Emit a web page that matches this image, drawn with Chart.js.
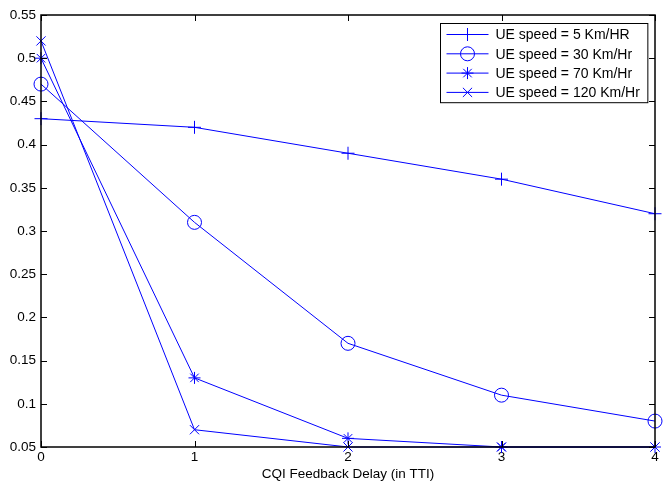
<!DOCTYPE html>
<html>
<head>
<meta charset="utf-8">
<script src="https://cdn.jsdelivr.net/npm/chart.js@4/dist/chart.umd.min.js"></script>
<style>
  html, body { margin: 0; padding: 0; background: #fff; }
  #wrap { width: 664px; height: 484px; }
</style>
</head>
<body>
<div id="wrap"><canvas id="cqiChart" width="664" height="484"></canvas></div>
<script>
// values
const delays = [0, 1, 2, 3, 4];
const speed5 = [0.43, 0.42, 0.39, 0.36, 0.32];
const speed30 = [0.47, 0.31, 0.17, 0.11, 0.08];
const speed70 = [0.50, 0.13, 0.06, 0.05, 0.05];
const speed120 = [0.52, 0.07, 0.05, 0.05, 0.05];
const seriesNames = ['UE speed = 5 Km/HR', 'UE speed = 30 Km/Hr', 'UE speed = 70 Km/Hr', 'UE speed = 120 Km/Hr'];
const xTicks = [0, 1, 2, 3, 4];
const yTicks = [0.05, 0.1, 0.15, 0.2, 0.25, 0.3, 0.35, 0.4, 0.45, 0.5, 0.55];

const FONT = '"Liberation Sans", Arial, Helvetica, sans-serif';
const BLUE = '#0000ff';

function toPoints(vals) {
    return delays.map((d, i) => ({ x: d, y: vals[i] }));
}

function makeSet(label, vals, style, radius) {
    return {
        label: label,
        data: toPoints(vals),
        borderColor: BLUE,
        backgroundColor: 'rgba(0,0,0,0)',
        borderWidth: 1,
        pointStyle: style,
        pointRadius: radius,
        pointBorderColor: BLUE,
        pointBorderWidth: 1,
        pointBackgroundColor: 'rgba(0,0,0,0)',
        tension: 0,
        clip: false
    };
}

// box, inward ticks on all four sides, and the legend
const matlabFrame = {
    id: 'matlabFrame',
    afterDraw(chart) {
        const ctx = chart.ctx;
        const a = chart.chartArea;
        const xs = chart.scales.x, ys = chart.scales.y;
        const tl = 6;
        ctx.save();
        ctx.strokeStyle = '#000';
        ctx.lineWidth = 1;
        ctx.beginPath();
        xTicks.forEach(v => {
            const px = Math.round(xs.getPixelForValue(v)) + 0.5;
            ctx.moveTo(px, a.bottom); ctx.lineTo(px, a.bottom - tl);
            ctx.moveTo(px, a.top); ctx.lineTo(px, a.top + tl);
        });
        yTicks.forEach(v => {
            const py = Math.round(ys.getPixelForValue(v)) + 0.5;
            ctx.moveTo(a.left, py); ctx.lineTo(a.left + tl, py);
            ctx.moveTo(a.right, py); ctx.lineTo(a.right - tl, py);
        });
        ctx.stroke();
        ctx.lineWidth = 1.5;
        ctx.strokeRect(a.left, a.top, a.right - a.left, a.bottom - a.top);

        // legend
        ctx.font = '14px ' + FONT;
        let maxW = 0;
        chart.data.datasets.forEach(ds => { maxW = Math.max(maxW, ctx.measureText(ds.label).width); });
        const rowH = 19.3;
        const boxW = 55 + maxW + 8;
        const boxH = rowH * chart.data.datasets.length + 2;
        const bx = Math.round(a.right - 8 - boxW) + 0.5;
        const by = Math.round(a.top + 8) + 0.5;
        ctx.fillStyle = '#fff';
        ctx.fillRect(bx, by, boxW, boxH);
        ctx.strokeStyle = '#000';
        ctx.lineWidth = 1;
        ctx.strokeRect(bx, by, boxW, boxH);
        chart.data.datasets.forEach((ds, i) => {
            const cy = by + 11 + i * rowH;
            ctx.strokeStyle = BLUE;
            ctx.lineWidth = 1;
            ctx.beginPath();
            ctx.moveTo(bx + 6, cy); ctx.lineTo(bx + 48, cy);
            ctx.stroke();
            ctx.fillStyle = 'rgba(0,0,0,0)';
            Chart.helpers.drawPoint(ctx, {
                pointStyle: ds.pointStyle,
                radius: ds.pointRadius,
                borderWidth: 1
            }, bx + 27, cy);
            ctx.fillStyle = '#000';
            ctx.textBaseline = 'middle';
            ctx.textAlign = 'left';
            ctx.fillText(ds.label, bx + 55, cy + 1);
        });
        ctx.restore();
    }
};

new Chart(document.getElementById('cqiChart').getContext('2d'), {
    type: 'line',
    data: {
        datasets: [
            makeSet(seriesNames[0], speed5, 'cross', 6.5),
            makeSet(seriesNames[1], speed30, 'circle', 7),
            makeSet(seriesNames[2], speed70, 'star', 6),
            makeSet(seriesNames[3], speed120, 'crossRot', 6.5)
        ]
    },
    options: {
        responsive: false,
        animation: false,
        layout: { padding: { top: 15, right: 9, left: 0, bottom: 0 } },
        plugins: { legend: { display: false }, tooltip: { enabled: false } },
        scales: {
            x: {
                type: 'linear',
                min: 0, max: 4,
                afterBuildTicks: s => { s.ticks = xTicks.map(v => ({ value: v })); },
                afterFit: s => { s.height = 37; },
                grid: { display: false, drawTicks: false },
                border: { display: false },
                ticks: { color: '#000', font: { family: FONT, size: 13.5 }, padding: 2, maxRotation: 0 },
                title: { display: true, text: 'CQI Feedback Delay (in TTI)', color: '#000', font: { family: FONT, size: 13.5 }, padding: { top: 2, bottom: 2 } }
            },
            y: {
                type: 'linear',
                min: 0.05, max: 0.55,
                afterBuildTicks: s => { s.ticks = yTicks.map(v => ({ value: v })); },
                afterFit: s => { s.width = 41; },
                grid: { display: false, drawTicks: false },
                border: { display: false },
                ticks: {
                    color: '#000', font: { family: FONT, size: 13.5 }, padding: 5,
                    callback: v => String(parseFloat(v.toFixed(2)))
                }
            }
        }
    },
    plugins: [matlabFrame]
});
</script>
</body>
</html>
